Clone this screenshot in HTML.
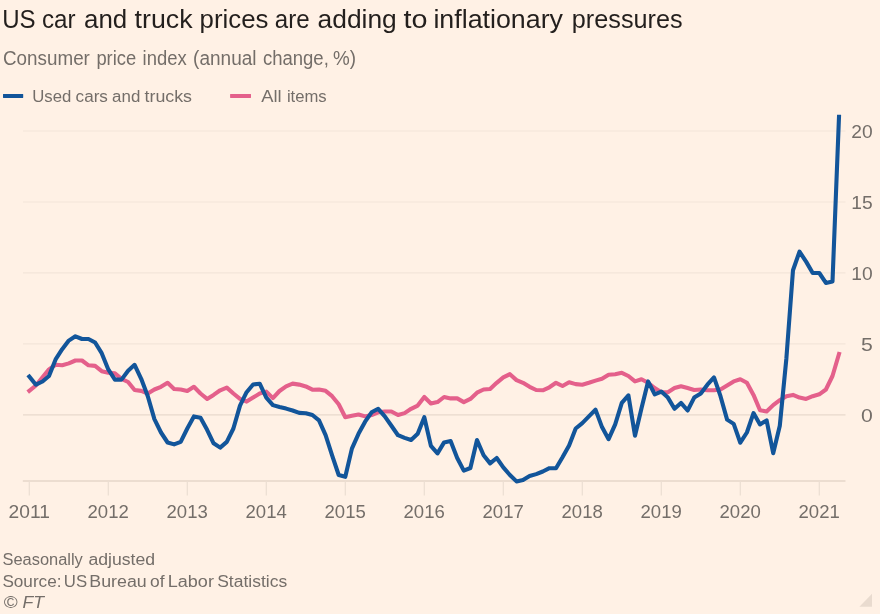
<!DOCTYPE html>
<html lang="en"><head><meta charset="utf-8"><title>US car and truck prices</title>
<style>
html,body{margin:0;padding:0;background:#fff1e5;}
body{width:880px;height:614px;overflow:hidden;}
svg{display:block;font-family:"Liberation Sans",sans-serif;will-change:transform;transform:translateZ(0);}
</style></head><body>
<svg width="880" height="614" viewBox="0 0 880 614">
<text y="27.7" font-size="25.3" fill="#231f1d" ><tspan x="2.2" textLength="33.4" lengthAdjust="spacingAndGlyphs">US</tspan> <tspan x="42.0" textLength="33.6" lengthAdjust="spacingAndGlyphs">car</tspan> <tspan x="84.0" textLength="43.2" lengthAdjust="spacingAndGlyphs">and</tspan> <tspan x="134.6" textLength="58.0" lengthAdjust="spacingAndGlyphs">truck</tspan> <tspan x="199.6" textLength="68.8" lengthAdjust="spacingAndGlyphs">prices</tspan> <tspan x="274.8" textLength="34.8" lengthAdjust="spacingAndGlyphs">are</tspan> <tspan x="317.6" textLength="79.2" lengthAdjust="spacingAndGlyphs">adding</tspan> <tspan x="403.6" textLength="24.0" lengthAdjust="spacingAndGlyphs">to</tspan> <tspan x="433.4" textLength="129.6" lengthAdjust="spacingAndGlyphs">inflationary</tspan> <tspan x="571.8" textLength="110.8" lengthAdjust="spacingAndGlyphs">pressures</tspan></text>
<text y="65.2" font-size="20" fill="#746e69" ><tspan x="3.0" textLength="86.9" lengthAdjust="spacingAndGlyphs">Consumer</tspan> <tspan x="96.4" textLength="39.8" lengthAdjust="spacingAndGlyphs">price</tspan> <tspan x="142.6" textLength="44.1" lengthAdjust="spacingAndGlyphs">index</tspan> <tspan x="193.1" textLength="63.4" lengthAdjust="spacingAndGlyphs">(annual</tspan> <tspan x="262.9" textLength="65.9" lengthAdjust="spacingAndGlyphs">change,</tspan> <tspan x="333.1" textLength="23.0" lengthAdjust="spacingAndGlyphs">%)</tspan></text>
<rect x="3" y="93.9" width="20.2" height="4.1" rx="0.4" fill="#12559a"/>
<text y="102.4" font-size="17.3" fill="#746e69" ><tspan x="32.2" textLength="39.1" lengthAdjust="spacingAndGlyphs">Used</tspan> <tspan x="75.6" textLength="32.3" lengthAdjust="spacingAndGlyphs">cars</tspan> <tspan x="112.1" textLength="28.2" lengthAdjust="spacingAndGlyphs">and</tspan> <tspan x="144.5" textLength="47.5" lengthAdjust="spacingAndGlyphs">trucks</tspan></text>
<rect x="230.1" y="93.9" width="20.9" height="4.1" rx="0.4" fill="#e4608b"/>
<text y="102.4" font-size="17.3" fill="#746e69" ><tspan x="261.3" textLength="20.4" lengthAdjust="spacingAndGlyphs">All</tspan> <tspan x="286.9" textLength="39.8" lengthAdjust="spacingAndGlyphs">items</tspan></text>
<line x1="23" x2="845.5" y1="131.0" y2="131.0" stroke="#f3e5d9" stroke-width="1.2"/>
<text x="872.7" y="138.0" font-size="17.7" fill="#746e69" text-anchor="end" textLength="21.4" lengthAdjust="spacingAndGlyphs">20</text>
<line x1="23" x2="845.5" y1="202.0" y2="202.0" stroke="#f3e5d9" stroke-width="1.2"/>
<text x="872.7" y="209.0" font-size="17.7" fill="#746e69" text-anchor="end" textLength="21.4" lengthAdjust="spacingAndGlyphs">15</text>
<line x1="23" x2="845.5" y1="272.9" y2="272.9" stroke="#f3e5d9" stroke-width="1.2"/>
<text x="872.7" y="280.0" font-size="17.7" fill="#746e69" text-anchor="end" textLength="21.4" lengthAdjust="spacingAndGlyphs">10</text>
<line x1="23" x2="845.5" y1="343.9" y2="343.9" stroke="#f3e5d9" stroke-width="1.2"/>
<text x="872.7" y="351.0" font-size="17.7" fill="#746e69" text-anchor="end" textLength="11.8" lengthAdjust="spacingAndGlyphs">5</text>
<line x1="23" x2="845.5" y1="414.8" y2="414.8" stroke="#e8d9cc" stroke-width="1.2"/>
<text x="872.7" y="422.0" font-size="17.7" fill="#746e69" text-anchor="end" textLength="11.8" lengthAdjust="spacingAndGlyphs">0</text>
<line x1="22.8" x2="845.5" y1="481" y2="481" stroke="#e6d6c9" stroke-width="1.3"/>
<line x1="29.3" x2="29.3" y1="481.5" y2="495.6" stroke="#eddfd3" stroke-width="1.3"/>
<text x="29.2" y="517.7" font-size="17.7" fill="#746e69" text-anchor="middle" textLength="41.3" lengthAdjust="spacingAndGlyphs">2011</text>
<line x1="108.3" x2="108.3" y1="481.5" y2="495.6" stroke="#eddfd3" stroke-width="1.3"/>
<text x="108.2" y="517.7" font-size="17.7" fill="#746e69" text-anchor="middle" textLength="41.3" lengthAdjust="spacingAndGlyphs">2012</text>
<line x1="187.3" x2="187.3" y1="481.5" y2="495.6" stroke="#eddfd3" stroke-width="1.3"/>
<text x="187.2" y="517.7" font-size="17.7" fill="#746e69" text-anchor="middle" textLength="41.3" lengthAdjust="spacingAndGlyphs">2013</text>
<line x1="266.3" x2="266.3" y1="481.5" y2="495.6" stroke="#eddfd3" stroke-width="1.3"/>
<text x="266.2" y="517.7" font-size="17.7" fill="#746e69" text-anchor="middle" textLength="41.3" lengthAdjust="spacingAndGlyphs">2014</text>
<line x1="345.3" x2="345.3" y1="481.5" y2="495.6" stroke="#eddfd3" stroke-width="1.3"/>
<text x="345.2" y="517.7" font-size="17.7" fill="#746e69" text-anchor="middle" textLength="41.3" lengthAdjust="spacingAndGlyphs">2015</text>
<line x1="424.3" x2="424.3" y1="481.5" y2="495.6" stroke="#eddfd3" stroke-width="1.3"/>
<text x="424.2" y="517.7" font-size="17.7" fill="#746e69" text-anchor="middle" textLength="41.3" lengthAdjust="spacingAndGlyphs">2016</text>
<line x1="503.3" x2="503.3" y1="481.5" y2="495.6" stroke="#eddfd3" stroke-width="1.3"/>
<text x="503.2" y="517.7" font-size="17.7" fill="#746e69" text-anchor="middle" textLength="41.3" lengthAdjust="spacingAndGlyphs">2017</text>
<line x1="582.3" x2="582.3" y1="481.5" y2="495.6" stroke="#eddfd3" stroke-width="1.3"/>
<text x="582.2" y="517.7" font-size="17.7" fill="#746e69" text-anchor="middle" textLength="41.3" lengthAdjust="spacingAndGlyphs">2018</text>
<line x1="661.3" x2="661.3" y1="481.5" y2="495.6" stroke="#eddfd3" stroke-width="1.3"/>
<text x="661.2" y="517.7" font-size="17.7" fill="#746e69" text-anchor="middle" textLength="41.3" lengthAdjust="spacingAndGlyphs">2019</text>
<line x1="740.3" x2="740.3" y1="481.5" y2="495.6" stroke="#eddfd3" stroke-width="1.3"/>
<text x="740.2" y="517.7" font-size="17.7" fill="#746e69" text-anchor="middle" textLength="41.3" lengthAdjust="spacingAndGlyphs">2020</text>
<line x1="819.3" x2="819.3" y1="481.5" y2="495.6" stroke="#eddfd3" stroke-width="1.3"/>
<text x="819.2" y="517.7" font-size="17.7" fill="#746e69" text-anchor="middle" textLength="41.3" lengthAdjust="spacingAndGlyphs">2021</text>
<path d="M29.3,390.9 L35.9,385.5 L42.5,377.4 L49.0,369.4 L55.6,364.8 L62.2,365.3 L68.8,363.4 L75.4,360.5 L82.0,360.5 L88.5,365.3 L95.1,365.9 L101.7,371.2 L108.3,372.8 L114.9,373.4 L121.5,378.8 L128.1,382.0 L134.6,390.0 L141.2,390.9 L147.8,393.5 L154.4,389.5 L161.0,386.8 L167.6,382.8 L174.1,389.0 L180.7,389.5 L187.3,390.9 L193.9,386.8 L200.5,393.5 L207.1,398.9 L213.6,394.9 L220.2,390.3 L226.8,387.6 L233.4,393.5 L240.0,398.9 L246.6,401.6 L253.1,397.6 L259.7,393.5 L266.3,391.6 L272.9,398.1 L279.5,391.0 L286.1,386.3 L292.6,383.6 L299.2,384.6 L305.8,386.4 L312.4,389.7 L319.0,389.5 L325.6,390.8 L332.1,396.2 L338.7,404.3 L345.3,417.2 L351.9,415.8 L358.5,414.5 L365.1,416.4 L371.6,415.0 L378.2,412.3 L384.8,411.5 L391.4,411.5 L398.0,415.0 L404.6,413.1 L411.1,408.8 L417.7,405.6 L424.3,397.0 L430.9,403.5 L437.5,402.1 L444.1,397.0 L450.6,398.4 L457.2,398.4 L463.8,402.1 L470.4,398.9 L477.0,392.7 L483.6,389.5 L490.1,389.0 L496.7,382.8 L503.3,377.4 L509.9,374.2 L516.5,380.1 L523.0,382.8 L529.6,386.8 L536.2,390.0 L542.8,390.3 L549.4,387.3 L556.0,382.8 L562.5,386.0 L569.1,382.2 L575.7,384.1 L582.3,384.7 L588.9,382.8 L595.5,380.6 L602.0,378.7 L608.6,374.7 L615.2,374.2 L621.8,372.8 L628.4,376.0 L635.0,381.4 L641.5,379.3 L648.1,382.8 L654.7,388.1 L661.3,392.2 L667.9,392.2 L674.5,388.1 L681.0,386.3 L687.6,388.1 L694.2,390.0 L700.8,389.5 L707.4,390.3 L714.0,390.3 L720.5,389.5 L727.1,385.5 L733.7,381.4 L740.3,379.3 L746.9,382.8 L753.5,394.9 L760.0,410.2 L766.6,411.5 L773.2,405.1 L779.8,400.2 L786.4,396.2 L793.0,394.9 L799.5,397.6 L806.1,398.9 L812.7,396.2 L819.3,394.3 L825.9,389.5 L832.5,376.0 L839.0,354.0" fill="none" stroke="#e4608b" stroke-width="4.1" stroke-linejoin="round" stroke-linecap="square"/>
<path d="M29.3,376.6 L35.9,384.7 L42.5,381.5 L49.0,376.0 L55.6,359.4 L62.2,349.2 L68.8,340.6 L75.4,336.3 L82.0,339.0 L88.5,339.0 L95.1,342.5 L101.7,353.2 L108.3,369.4 L114.9,379.6 L121.5,379.6 L128.1,370.7 L134.6,364.8 L141.2,378.8 L147.8,396.2 L154.4,419.1 L161.0,432.5 L167.6,442.5 L174.1,444.4 L180.7,441.9 L187.3,428.5 L193.9,416.4 L200.5,417.7 L207.1,429.8 L213.6,443.3 L220.2,447.6 L226.8,441.9 L233.4,428.5 L240.0,405.6 L246.6,392.2 L253.1,384.5 L259.7,383.7 L266.3,397.6 L272.9,405.1 L279.5,407.0 L286.1,408.6 L292.6,410.5 L299.2,412.9 L305.8,413.2 L312.4,415.0 L319.0,420.4 L325.6,435.2 L332.1,455.3 L338.7,475.0 L345.3,476.8 L351.9,448.6 L358.5,433.8 L365.1,421.7 L371.6,412.3 L378.2,408.8 L384.8,416.4 L391.4,425.8 L398.0,435.2 L404.6,437.9 L411.1,440.0 L417.7,433.8 L424.3,417.2 L430.9,445.9 L437.5,453.4 L444.1,442.4 L450.6,441.1 L457.2,458.0 L463.8,470.6 L470.4,468.0 L477.0,440.0 L483.6,455.3 L490.1,463.4 L496.7,458.0 L503.3,467.4 L509.9,475.0 L516.5,481.4 L523.0,480.0 L529.6,476.0 L536.2,474.1 L542.8,471.5 L549.4,468.2 L556.0,468.2 L562.5,457.2 L569.1,445.4 L575.7,428.5 L582.3,423.1 L588.9,416.4 L595.5,409.6 L602.0,427.1 L608.6,439.2 L615.2,424.4 L621.8,402.9 L628.4,395.4 L635.0,435.7 L641.5,408.3 L648.1,381.4 L654.7,394.3 L661.3,391.6 L667.9,397.6 L674.5,408.8 L681.0,402.9 L687.6,410.5 L694.2,397.6 L700.8,393.5 L707.4,384.7 L714.0,377.4 L720.5,396.2 L727.1,419.6 L733.7,423.9 L740.3,442.7 L746.9,432.5 L753.5,413.1 L760.0,424.4 L766.6,420.4 L773.2,453.2 L779.8,425.8 L786.4,358.2 L793.0,270.2 L799.5,251.7 L806.1,261.6 L812.7,273.0 L819.3,273.0 L825.9,282.9 L832.5,281.5 L839.0,116.8" fill="none" stroke="#12559a" stroke-width="4.1" stroke-linejoin="round" stroke-linecap="square"/>
<text y="565.3" font-size="17.3" fill="#746e69" ><tspan x="2.5" textLength="80.3" lengthAdjust="spacingAndGlyphs">Seasonally</tspan> <tspan x="88.4" textLength="66.7" lengthAdjust="spacingAndGlyphs">adjusted</tspan></text>
<text y="587.2" font-size="17.3" fill="#746e69" ><tspan x="2.4" textLength="59.1" lengthAdjust="spacingAndGlyphs">Source:</tspan> <tspan x="63.8" textLength="23.3" lengthAdjust="spacingAndGlyphs">US</tspan> <tspan x="89.3" textLength="57.4" lengthAdjust="spacingAndGlyphs">Bureau</tspan> <tspan x="150.0" textLength="14.5" lengthAdjust="spacingAndGlyphs">of</tspan> <tspan x="167.8" textLength="46.1" lengthAdjust="spacingAndGlyphs">Labor</tspan> <tspan x="217.2" textLength="70.0" lengthAdjust="spacingAndGlyphs">Statistics</tspan></text>
<text y="608.4" font-size="17.3" fill="#746e69" font-style="italic"><tspan x="3.5" textLength="13.9" lengthAdjust="spacingAndGlyphs">©</tspan> <tspan x="22.4" textLength="21.6" lengthAdjust="spacingAndGlyphs">FT</tspan></text>
<path d="M872,593.8 L872,606.8 L859.4,606.8 Z" fill="#e9dbcf"/>
</svg></body></html>
